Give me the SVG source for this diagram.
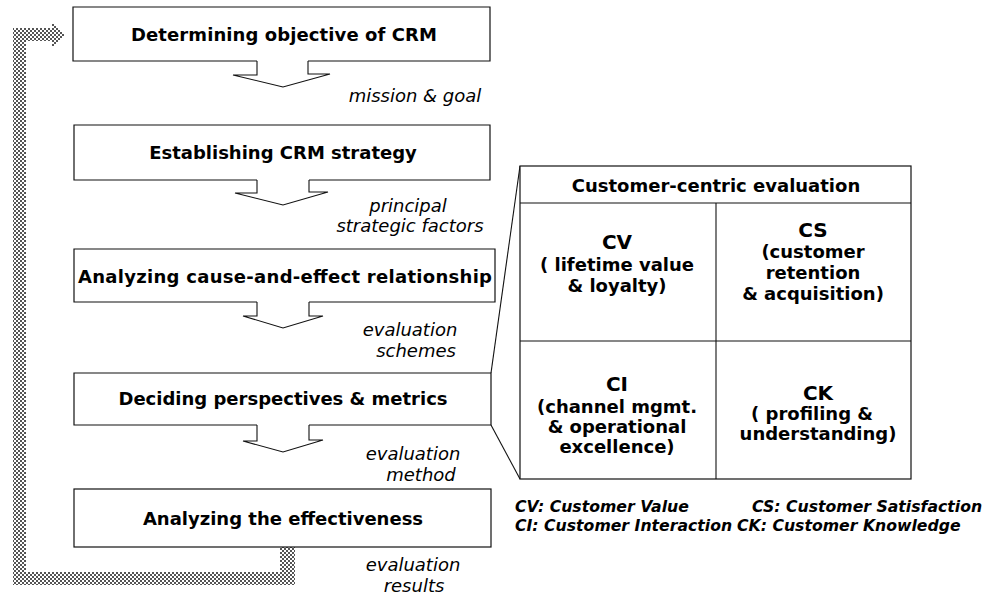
<svg xmlns="http://www.w3.org/2000/svg" width="987" height="600" viewBox="0 0 987 600">
<style>
text{font-family:"DejaVu Sans","Verdana",sans-serif;fill:#000}
.bt{font-weight:bold;font-size:18px;text-anchor:middle}
.lb{font-style:italic;font-size:18px;text-anchor:middle}
.hd{font-weight:bold;font-size:20px;text-anchor:middle}
.ct{font-weight:bold;font-size:18px;text-anchor:middle}
.lg{font-weight:bold;font-style:italic;font-size:15.7px}
.box{fill:#fff;stroke:#111;stroke-width:1.2}
.ln{fill:none;stroke:#111;stroke-width:1.1}
</style>
<defs>
<pattern id="dots" patternUnits="userSpaceOnUse" width="4" height="4">
<rect width="4" height="4" fill="#fff"/>
<rect x="0" y="0" width="2" height="2" fill="#555"/>
<rect x="2" y="2" width="2" height="2" fill="#555"/>
</pattern>
</defs>
<rect width="987" height="600" fill="#fff"/>

<g id="connectors">
<path d="M280 547 L295 547 L295 585 L13 585 L13 28 L52 28 L52 22 L65 35 L52 48 L52 41 L26 41 L26 572 L280 572 Z" fill="url(#dots)"/>
<polyline class="ln" points="257,61 257,75 233,75 283,87 330,74 308,74 308,61"/>
<polyline class="ln" points="257,180 257,193 235,193 283,205 328,192 309,192 309,180"/>
<polyline class="ln" points="257,302 257,316 243,316 283,328 323,316 309,316 309,302"/>
<polyline class="ln" points="257,425 257,441 243,441 283,452 323,440 309,440 309,425"/>
<line class="ln" x1="491" y1="373" x2="520" y2="166"/>
<line class="ln" x1="491" y1="425" x2="520" y2="479"/>
</g>

<g id="n1">
<path class="box" d="M257 61 H73 V7 H490 V61 H308"/>
<text class="bt" x="284" y="41" textLength="306" lengthAdjust="spacing">Determining objective of CRM</text>
</g>
<text class="lb" x="415" y="102">mission &amp; goal</text>

<g id="n2">
<path class="box" d="M257 180 H74 V125 H490 V180 H309"/>
<text class="bt" x="283" y="159">Establishing CRM strategy</text>
</g>
<text class="lb" x="408" y="212">principal</text>
<text class="lb" x="410" y="232">strategic factors</text>

<g id="n3">
<path class="box" d="M257 302 H74 V249 H495 V302 H309"/>
<text class="bt" x="285" y="283" textLength="414" lengthAdjust="spacing">Analyzing cause-and-effect relationship</text>
</g>
<text class="lb" x="410" y="336">evaluation</text>
<text class="lb" x="416" y="357">schemes</text>

<g id="n4">
<path class="box" d="M257 425 H74 V373 H491 V425 H309"/>
<text class="bt" x="283" y="405">Deciding perspectives &amp; metrics</text>
</g>
<text class="lb" x="413" y="460">evaluation</text>
<text class="lb" x="421" y="481">method</text>

<g id="n5">
<rect class="box" x="74" y="489" width="417" height="58"/>
<text class="bt" x="283" y="525">Analyzing the effectiveness</text>
</g>
<text class="lb" x="413" y="571">evaluation</text>
<text class="lb" x="414" y="592">results</text>

<g id="table">
<rect class="box" x="520" y="166" width="391" height="313"/>
<line class="ln" x1="520" y1="203" x2="911" y2="203"/>
<line class="ln" x1="716" y1="203" x2="716" y2="479"/>
<line class="ln" x1="520" y1="341" x2="911" y2="341"/>
<text class="ct" x="716" y="192">Customer-centric evaluation</text>
</g>
<g id="cv">
<text class="hd" x="617" y="249">CV</text>
<text class="ct" x="617" y="271">( lifetime value</text>
<text class="ct" x="617" y="292">&amp; loyalty)</text>
</g>
<g id="cs">
<text class="hd" x="813" y="237">CS</text>
<text class="ct" x="813" y="258">(customer</text>
<text class="ct" x="813" y="279">retention</text>
<text class="ct" x="813" y="300">&amp; acquisition)</text>
</g>
<g id="ci">
<text class="hd" x="617" y="391">CI</text>
<text class="ct" x="617" y="413">(channel mgmt.</text>
<text class="ct" x="617" y="433">&amp; operational</text>
<text class="ct" x="617" y="453">excellence)</text>
</g>
<g id="ck">
<text class="hd" x="818" y="400">CK</text>
<text class="ct" x="812" y="420">( profiling &amp;</text>
<text class="ct" x="818" y="440">understanding)</text>
</g>
<g id="legend">
<text class="lg" x="515" y="512">CV: Customer Value</text>
<text class="lg" x="752" y="512">CS: Customer Satisfaction</text>
<text class="lg" x="515" y="531">CI: Customer Interaction</text>
<text class="lg" x="737" y="531">CK: Customer Knowledge</text>
</g>
</svg>
